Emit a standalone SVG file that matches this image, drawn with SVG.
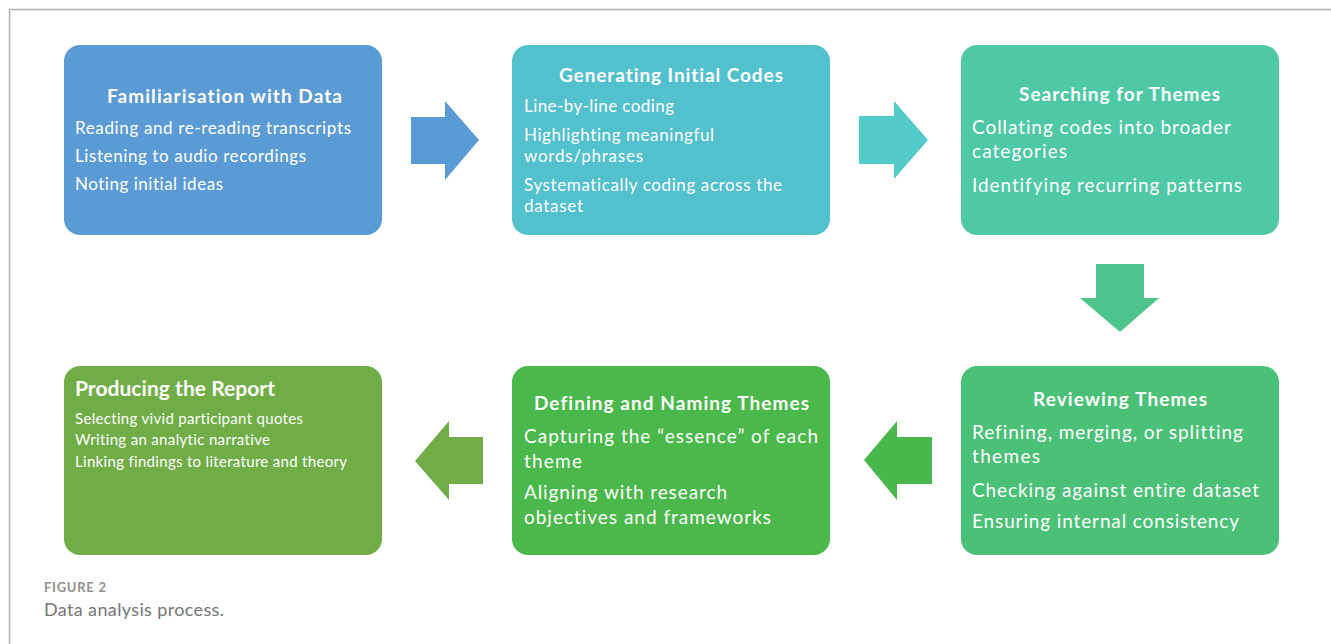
<svg xmlns="http://www.w3.org/2000/svg" width="1331" height="644" viewBox="0 0 1331 644">
  <style>
    .box { stroke: none; }
    text { font-variant-ligatures: none; }
    .t { font-family: Lato, "Open Sans", "Liberation Sans", sans-serif; fill: #ffffff; }
    .h { font-weight: bold; font-size: 19px; text-anchor: start; }
    .b { font-size: 17px; }
    .b19 { font-size: 19px; }
    .b15 { font-size: 15px; }
    .cap1 { font-family: Lato, "Open Sans", "Liberation Sans", sans-serif; font-weight: bold; font-size: 13px; fill: #909090; }
    .cap2 { font-family: Lato, "Open Sans", "Liberation Sans", sans-serif; font-size: 18px; fill: #767676; }
  </style>

  <rect width="1331" height="644" fill="#ffffff"/>
  <!-- figure frame -->
  <path d="M9.5 644 V9.5 H1331" fill="none" stroke="#b0b0b0" stroke-width="1.5"/>

  <!-- step 1 -->
  <g id="familiarisation">
    <rect class="box" x="64" y="45" width="318" height="190" rx="16" fill="#5B9BD5"/>
    <text class="t h" x="107" y="103" textLength="235">Familiarisation with Data</text>
    <text class="t b" x="75" y="134" textLength="276">Reading and re-reading transcripts</text>
    <text class="t b" x="75" y="162" textLength="231">Listening to audio recordings</text>
    <text class="t b" x="75" y="190" textLength="148">Noting initial ideas</text>
  </g>

  <!-- step 2 -->
  <g id="initial-codes">
    <rect class="box" x="512" y="45" width="318" height="190" rx="16" fill="#53C0CE"/>
    <text class="t h" x="559" y="82" textLength="224">Generating Initial Codes</text>
    <text class="t b" x="524" y="112" textLength="150">Line-by-line coding</text>
    <text class="t b" x="524" y="141" textLength="190">Highlighting meaningful</text>
    <text class="t b" x="524" y="162" textLength="119">words/phrases</text>
    <text class="t b" x="524" y="191" textLength="258">Systematically coding across the</text>
    <text class="t b" x="524" y="212" textLength="59">dataset</text>
  </g>

  <!-- step 3 -->
  <g id="searching">
    <rect class="box" x="961" y="45" width="318" height="190" rx="16" fill="#4FC8A5"/>
    <text class="t h" x="1019" y="101" textLength="201">Searching for Themes</text>
    <text class="t b19" x="972" y="134" textLength="259">Collating codes into broader</text>
    <text class="t b19" x="972" y="158" textLength="95">categories</text>
    <text class="t b19" x="972" y="192" textLength="270">Identifying recurring patterns</text>
  </g>

  <!-- step 4 -->
  <g id="reviewing">
    <rect class="box" x="961" y="366" width="318" height="189" rx="16" fill="#4BC077"/>
    <text class="t h" x="1033" y="406" textLength="174">Reviewing Themes</text>
    <text class="t b19" x="972" y="439" textLength="271">Refining, merging, or splitting</text>
    <text class="t b19" x="972" y="463" textLength="68">themes</text>
    <text class="t b19" x="972" y="497" textLength="287">Checking against entire dataset</text>
    <text class="t b19" x="972" y="528" textLength="267">Ensuring internal consistency</text>
  </g>

  <!-- step 5 -->
  <g id="defining">
    <rect class="box" x="512" y="366" width="318" height="189" rx="16" fill="#4AB84A"/>
    <text class="t h" x="534" y="410" textLength="275">Defining and Naming Themes</text>
    <text class="t b19" x="524" y="443" textLength="294">Capturing the “essence” of each</text>
    <text class="t b19" x="524" y="468" textLength="58">theme</text>
    <text class="t b19" x="524" y="499" textLength="203">Aligning with research</text>
    <text class="t b19" x="524" y="524" textLength="247">objectives and frameworks</text>
  </g>

  <!-- step 6 -->
  <g id="report">
    <rect class="box" x="64" y="366" width="318" height="189" rx="16" fill="#70AD47"/>
    <text class="t h" x="75" y="396" style="font-size:21px" textLength="200">Producing the Report</text>
    <text class="t b15" x="75" y="424" textLength="228">Selecting vivid participant quotes</text>
    <text class="t b15" x="75" y="445" textLength="195">Writing an analytic narrative</text>
    <text class="t b15" x="75" y="467" textLength="272">Linking findings to literature and theory</text>
  </g>

  <!-- block arrows between steps -->
  <g id="connectors">
    <polygon points="411,117 445,117 445,101 479,140 445,180 445,164 411,164" fill="#5B9BD5"/>
    <polygon points="859,116 894,116 894,101 928,140 894,179 894,164 859,164" fill="#53CBCB"/>
    <polygon points="1096,264 1144,264 1144,298 1159,298 1120,332 1080,298 1096,298" fill="#4CC48C"/>
    <polygon points="932,437 897,437 897,421 864,460 897,500 897,484 932,484" fill="#49B84C"/>
    <polygon points="483,437 449,437 449,421 415,461 449,500 449,484 483,484" fill="#70AD47"/>
  </g>

  <!-- caption -->
  <text class="cap1" x="44" y="592" textLength="62">FIGURE 2</text>
  <text class="cap2" x="44" y="616" textLength="180">Data analysis process.</text>
</svg>
